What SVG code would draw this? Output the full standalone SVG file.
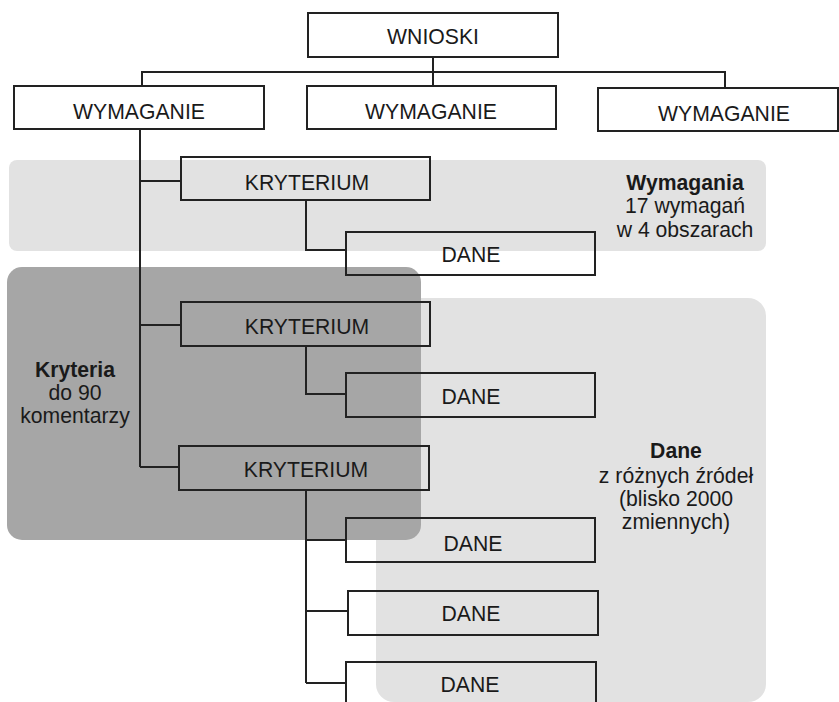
<svg xmlns="http://www.w3.org/2000/svg" width="839" height="702" viewBox="0 0 839 702">
<style>
.bg{fill:#ffffff}
.pl{fill:#e2e2e2}
.pd{fill:#a6a6a6}
.box{fill:none;stroke:#222222;stroke-width:2}
.ln{fill:none;stroke:#222222;stroke-width:2}
text{font-family:"Liberation Sans",Arial,sans-serif;font-size:21.2px;fill:#1a1a1a;text-anchor:middle}
.b{font-weight:bold}
</style>
<rect class="bg" x="0" y="0" width="839" height="702"/>
<g id="panels">
<rect id="panel-wymagania" class="pl" x="9" y="160" width="757" height="91" rx="8"/>
<rect id="panel-dane" class="pl" x="376" y="298" width="390" height="404" rx="18"/>
<rect id="panel-kryteria" class="pd" x="7" y="267" width="414" height="273" rx="15"/>
</g>
<g id="connectors">
<path class="ln" d="M433,57 V86 M142,86 V72 H725 V88"/>
<path class="ln" d="M140,129 V467 M140,181 H181 M140,325 H181 M140,467 H179"/>
<path class="ln" d="M306,200 V250 H346"/>
<path class="ln" d="M306,346 V394 H346"/>
<path class="ln" d="M306,490 V683 M306,540 H346 M306,611 H348 M306,683 H346"/>
</g>
<g id="wnioski"><rect class="box" x="308" y="13" width="250" height="44"/><text x="433" y="44">WNIOSKI</text></g>
<g id="wymaganie1"><rect class="box" x="14" y="86" width="250" height="43"/><text x="139" y="119">WYMAGANIE</text></g>
<g id="wymaganie2"><rect class="box" x="307" y="86" width="249" height="43"/><text x="431" y="119">WYMAGANIE</text></g>
<g id="wymaganie3"><rect class="box" x="598" y="88" width="240" height="43"/><text x="724" y="121">WYMAGANIE</text></g>
<g id="kryterium1"><rect class="box" x="181" y="157" width="249" height="43"/><text x="307" y="190">KRYTERIUM</text></g>
<g id="dane1"><rect class="box" x="346" y="232" width="249" height="43"/><text x="471" y="262">DANE</text></g>
<g id="kryterium2"><rect class="box" x="181" y="302" width="249" height="44"/><text x="307" y="334">KRYTERIUM</text></g>
<g id="dane2"><rect class="box" x="346" y="373" width="249" height="44"/><text x="471" y="404">DANE</text></g>
<g id="kryterium3"><rect class="box" x="179" y="446" width="250" height="44"/><text x="306" y="477">KRYTERIUM</text></g>
<g id="dane3"><rect class="box" x="346" y="518" width="249" height="44"/><text x="473" y="551">DANE</text></g>
<g id="dane4"><rect class="box" x="348" y="591" width="250" height="44"/><text x="471" y="621">DANE</text></g>
<g id="dane5"><rect class="box" x="346" y="662" width="250" height="44"/><text x="470" y="692">DANE</text></g>
<g id="label-wymagania"><text x="685" y="190" class="b">Wymagania</text><text x="685" y="213">17 wymagań</text><text x="685" y="237">w 4 obszarach</text></g>
<g id="label-kryteria"><text x="75" y="377" class="b">Kryteria</text><text x="75" y="400">do 90</text><text x="75" y="423">komentarzy</text></g>
<g id="label-dane"><text x="676" y="458" class="b">Dane</text><text x="676" y="483">z różnych źródeł</text><text x="676" y="506">(blisko 2000</text><text x="676" y="529">zmiennych)</text></g>
</svg>
